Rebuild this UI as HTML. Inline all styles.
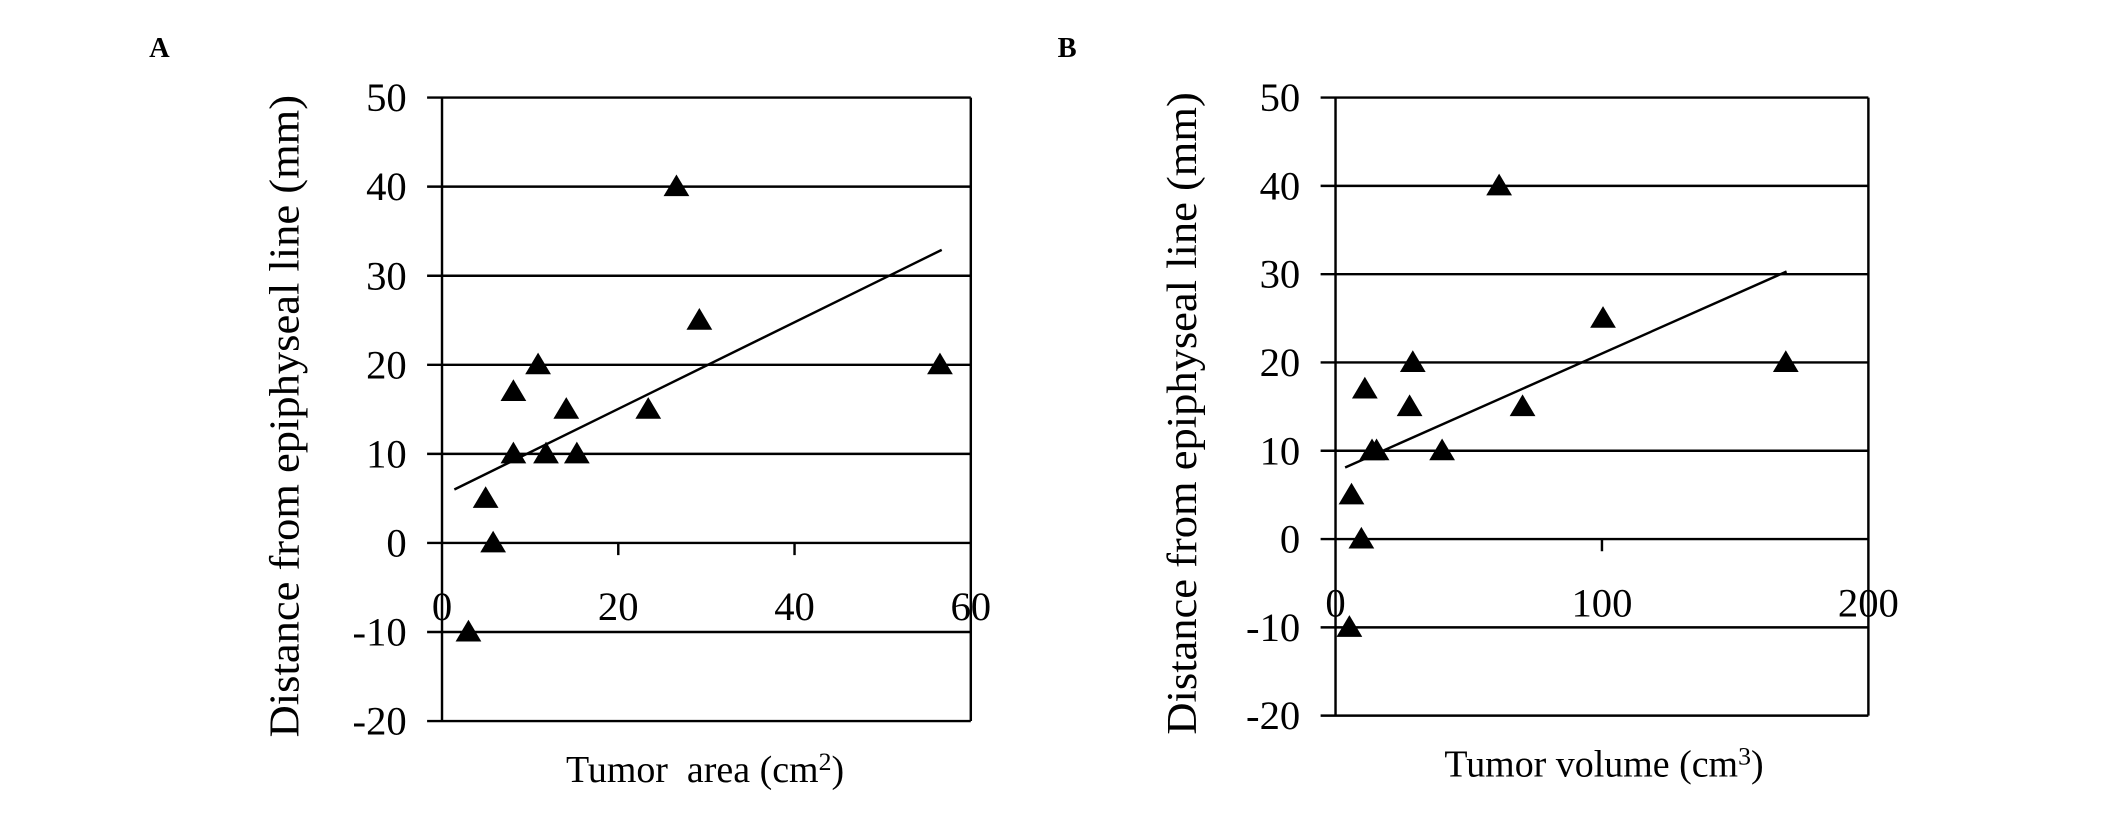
<!DOCTYPE html>
<html><head><meta charset="utf-8"><style>html,body{margin:0;padding:0;background:#fff}svg{display:block}</style></head>
<body>
<svg id="fig" width="2126" height="820" viewBox="0 0 1568 605" preserveAspectRatio="none" xmlns="http://www.w3.org/2000/svg" font-family="'Liberation Serif', serif"></svg>
<script>
const yTicks = [50, 40, 30, 20, 10, 0, -10, -20];
const aXTicks = [0, 20, 40, 60];
const aX = [3.0, 4.95, 5.8, 8.1, 8.1, 10.9, 11.8, 14.1, 15.3, 23.4, 26.6, 29.2, 56.5];
const aY = [-10, 5, 0, 17, 10, 20, 10, 15, 10, 15, 40, 25, 20];
const aTrendX = [1.4, 56.7];
const aTrendY = [6.0, 32.9];
const bXTicks = [0, 100, 200];
const bX = [5.2, 6, 9.7, 11, 13.7, 15.4, 27.8, 29, 40, 61.4, 70.2, 100.4, 169];
const bY = [-10, 5, 0, 17, 10, 10, 15, 20, 10, 40, 15, 25, 20];
const bTrendX = [3.6, 169.3];
const bTrendY = [8.1, 30.3];

const NS = 'http://www.w3.org/2000/svg';
const svg = document.getElementById('fig');
function mk(tag, attrs, parent) {
  const e = document.createElementNS(NS, tag);
  for (const k in attrs) e.setAttribute(k, attrs[k]);
  (parent || svg).appendChild(e);
  return e;
}
function panel(p) {
  const g = mk('g', {});
  
  
  const sx = v => p.left + (v - p.xmin) / (p.xmax - p.xmin) * (p.right - p.left);
  const sy = v => p.bottom - (v - (-20)) / 70 * (p.bottom - p.top);
  yTicks.forEach(t => {
    const l = mk('line', {x1: p.left - 11, x2: p.right, y1: sy(t), y2: sy(t), stroke: '#000', 'stroke-width': 1.8}, g);
    
    
    const tx = mk('text', {x: p.left - 26, y: sy(t) + 10, 'font-size': 30, 'text-anchor': 'end'}, g);
    tx.textContent = t;
    
    
  });
  const ax = mk('line', {x1: p.left, x2: p.left, y1: p.top, y2: p.bottom, stroke: '#000', 'stroke-width': 1.8}, g);
  
  
  const rb = mk('line', {x1: p.right, x2: p.right, y1: p.top, y2: p.bottom, stroke: '#000', 'stroke-width': 1.8}, g);
  
  
  p.xTicks.forEach((t, i) => {
    if (i > 0 && i < p.xTicks.length - 1) {
      const tk = mk('line', {x1: sx(t), x2: sx(t), y1: sy(0), y2: sy(0) + 9, stroke: '#000', 'stroke-width': 1.8}, g);
      
      
    }
    const tx = mk('text', {x: sx(t), y: sy(0) + 57, 'font-size': 30, 'text-anchor': 'middle'}, g);
    tx.textContent = t;
    
    
  });
  const tl = mk('line', {x1: sx(p.tx[0]), y1: sy(p.ty[0]), x2: sx(p.tx[1]), y2: sy(p.ty[1]), stroke: '#000', 'stroke-width': 1.8}, g);
  
  
  p.xs.forEach((xv, i) => {
    const cx = sx(xv), cy = sy(p.ys[i]);
    const tri = mk('polygon', {points: `${cx},${cy - 9} ${cx - 9.5},${cy + 7} ${cx + 9.5},${cy + 7}`, fill: '#000'}, g);
    
    
  });
  const yt = mk('text', {transform: `translate(${p.ytx},${(p.top + p.bottom) / 2 + 5}) rotate(-90)`, 'font-size': 31, 'text-anchor': 'middle', textLength: 474, lengthAdjust: 'spacingAndGlyphs'}, g);
  yt.textContent = 'Distance from epiphyseal line (mm)';
  
  
  const xt = mk('text', {x: p.xtx, y: p.bottom + 45, 'font-size': 28, 'text-anchor': 'middle'}, g);
  xt.innerHTML = p.xtitle;
  
  
  const lb = mk('text', {x: p.lx, y: 42, 'font-size': 21, 'font-weight': 'bold'}, g);
  lb.textContent = p.label;
  
  
}
panel({name: 'panel-a', left: 326, right: 716, top: 72, bottom: 532, xmin: 0, xmax: 60, xTicks: aXTicks, xs: aX, ys: aY, tx: aTrendX, ty: aTrendY, ytx: 220, xtx: 520, xtitle: 'Tumor&#160; area (cm<tspan font-size="19" dy="-9">2</tspan><tspan dy="9">)</tspan>', lx: 110, label: 'A'});
panel({name: 'panel-b', left: 985, right: 1378, top: 72, bottom: 528, xmin: 0, xmax: 200, xTicks: bXTicks, xs: bX, ys: bY, tx: bTrendX, ty: bTrendY, ytx: 882, xtx: 1183, xtitle: 'Tumor volume (cm<tspan font-size="19" dy="-9">3</tspan><tspan dy="9">)</tspan>', lx: 780, label: 'B'});
</script>
</body></html>
